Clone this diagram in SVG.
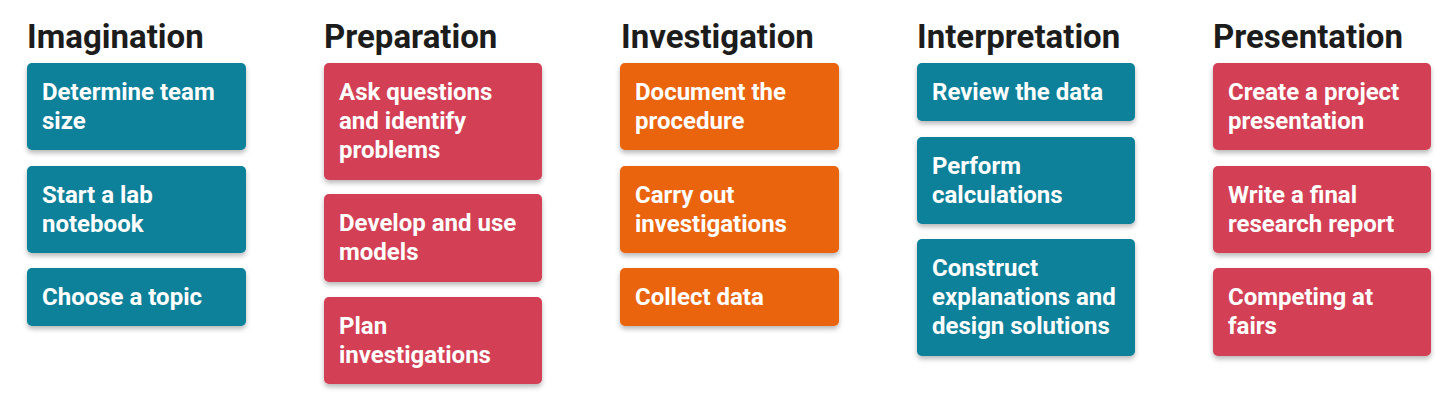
<svg xmlns="http://www.w3.org/2000/svg" width="1456" height="411" viewBox="0 0 1456 411">
<defs>
<filter id="sh" x="-10%" y="-20%" width="120%" height="150%">
<feDropShadow dx="0" dy="3" stdDeviation="2.5" flood-color="#000" flood-opacity="0.28"/>
</filter>
<style>
.h{font-family:Roboto,"Liberation Sans",sans-serif;font-weight:700;font-size:33px;fill:#1c1c1c}
.t{font-family:Roboto,"Liberation Sans",sans-serif;font-weight:700;font-size:24px;fill:#fff}
.teal{fill:#07809A}
.red{fill:#D33F55}
.org{fill:#EA6410}
rect{filter:url(#sh)}
</style>
</defs>
<rect x="0" y="0" width="1456" height="411" fill="#fff" style="filter:none"/>
<g id="col-imagination">
<text class="h" x="27" y="48">Imagination</text>
<g id="n-team"><rect class="teal" x="27" y="63" width="219" height="87" rx="5"/><text class="t" x="42" y="100">Determine team<tspan x="42" dy="29">size</tspan></text></g>
<g id="n-notebook"><rect class="teal" x="27" y="166" width="219" height="87" rx="5"/><text class="t" x="42" y="203">Start a lab<tspan x="42" dy="29">notebook</tspan></text></g>
<g id="n-topic"><rect class="teal" x="27" y="268" width="219" height="58" rx="5"/><text class="t" x="42" y="305">Choose a topic</text></g>
</g>
<g id="col-preparation">
<text class="h" x="324" y="48">Preparation</text>
<g id="n-ask"><rect class="red" x="324" y="63" width="218" height="117" rx="5"/><text class="t" x="339" y="100">Ask questions<tspan x="339" dy="29">and identify</tspan><tspan x="339" dy="29">problems</tspan></text></g>
<g id="n-models"><rect class="red" x="324" y="194" width="218" height="88" rx="5"/><text class="t" x="339" y="231">Develop and use<tspan x="339" dy="29">models</tspan></text></g>
<g id="n-plan"><rect class="red" x="324" y="297" width="218" height="87" rx="5"/><text class="t" x="339" y="334">Plan<tspan x="339" dy="29">investigations</tspan></text></g>
</g>
<g id="col-investigation">
<text class="h" x="621" y="48">Investigation</text>
<g id="n-doc"><rect class="org" x="620" y="63" width="219" height="87" rx="5"/><text class="t" x="635" y="100">Document the<tspan x="635" dy="29">procedure</tspan></text></g>
<g id="n-carry"><rect class="org" x="620" y="166" width="219" height="87" rx="5"/><text class="t" x="635" y="203">Carry out<tspan x="635" dy="29">investigations</tspan></text></g>
<g id="n-collect"><rect class="org" x="620" y="268" width="219" height="58" rx="5"/><text class="t" x="635" y="305">Collect data</text></g>
</g>
<g id="col-interpretation">
<text class="h" x="917" y="48">Interpretation</text>
<g id="n-review"><rect class="teal" x="917" y="63" width="218" height="58" rx="5"/><text class="t" x="932" y="100">Review the data</text></g>
<g id="n-calc"><rect class="teal" x="917" y="137" width="218" height="87" rx="5"/><text class="t" x="932" y="174">Perform<tspan x="932" dy="29">calculations</tspan></text></g>
<g id="n-construct"><rect class="teal" x="917" y="239" width="218" height="117" rx="5"/><text class="t" x="932" y="276">Construct<tspan x="932" dy="29">explanations and</tspan><tspan x="932" dy="29">design solutions</tspan></text></g>
</g>
<g id="col-presentation">
<text class="h" x="1213" y="48">Presentation</text>
<g id="n-pres"><rect class="red" x="1213" y="63" width="218" height="87" rx="5"/><text class="t" x="1228" y="100">Create a project<tspan x="1228" dy="29">presentation</tspan></text></g>
<g id="n-report"><rect class="red" x="1213" y="166" width="218" height="87" rx="5"/><text class="t" x="1228" y="203">Write a final<tspan x="1228" dy="29">research report</tspan></text></g>
<g id="n-fairs"><rect class="red" x="1213" y="268" width="218" height="88" rx="5"/><text class="t" x="1228" y="305">Competing at<tspan x="1228" dy="29">fairs</tspan></text></g>
</g>
<g id="connectors"></g>
</svg>
